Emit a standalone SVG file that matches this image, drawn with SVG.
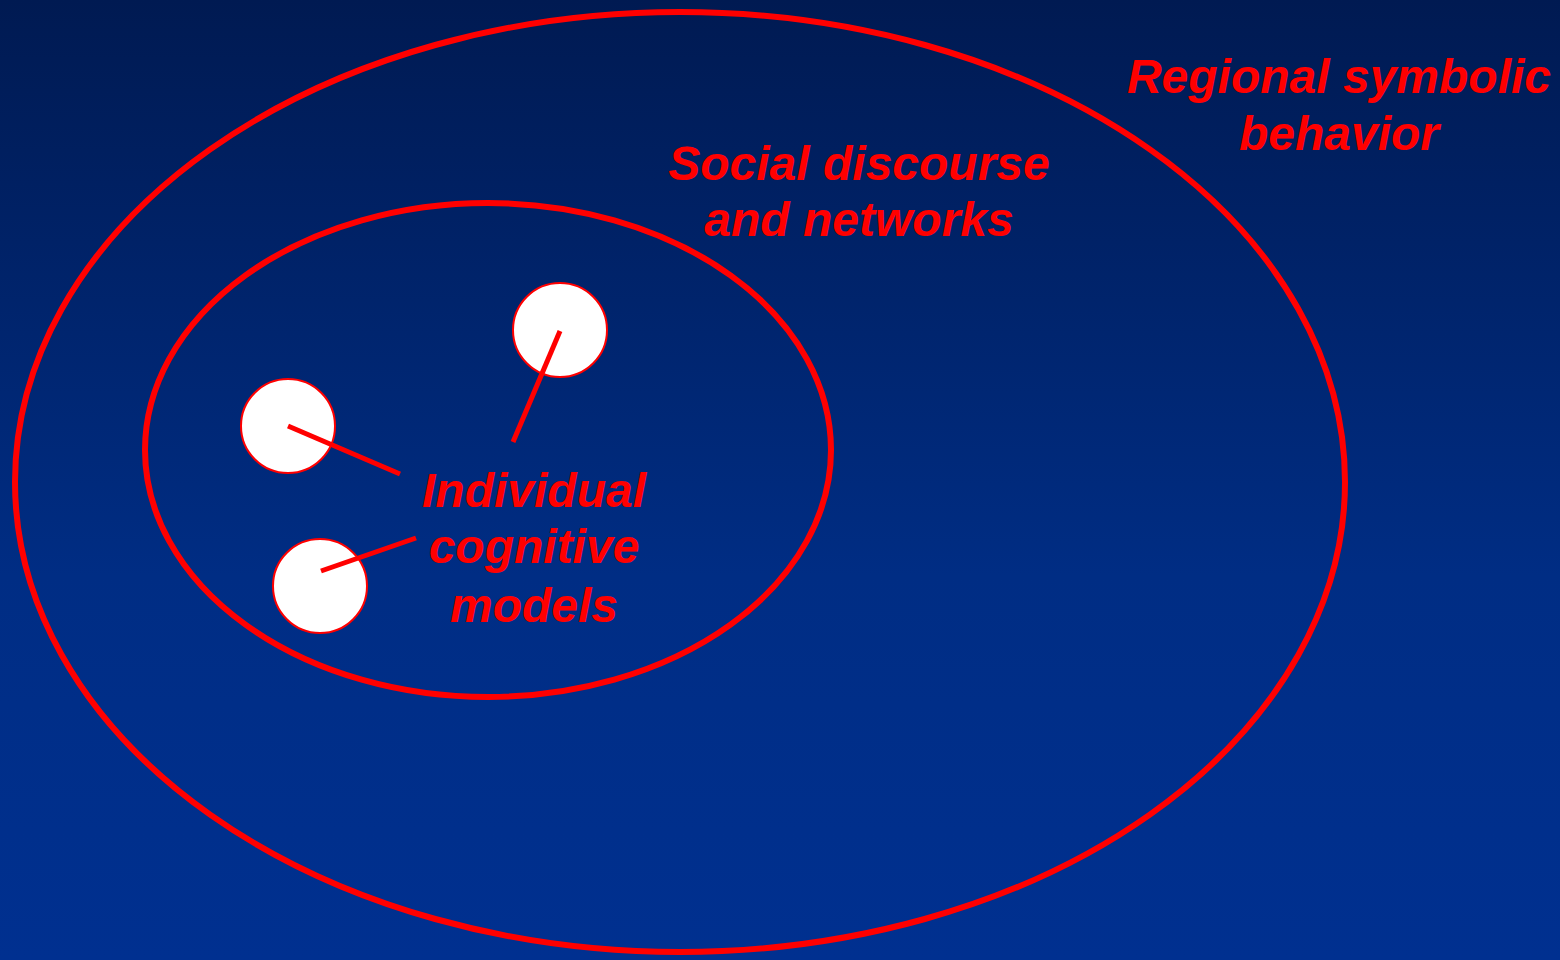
<svg xmlns="http://www.w3.org/2000/svg" width="1560" height="960" viewBox="0 0 1560 960">
  <defs>
    <linearGradient id="bg" x1="0" y1="0" x2="0" y2="1">
      <stop offset="0" stop-color="#001a52"/>
      <stop offset="0.6" stop-color="#002d84"/>
      <stop offset="1" stop-color="#003090"/>
    </linearGradient>
  </defs>
  <style>
    .ring { fill: none; stroke: #ff0000; stroke-width: 6; }
    .node { fill: #ffffff; stroke: #ff0000; stroke-width: 2; }
    .conn { stroke: #ff0000; stroke-width: 5; fill: none; }
    .lbl { font-family: "Liberation Sans", Arial, sans-serif; font-weight: bold; font-style: italic; font-size: 48px; fill: #ff0000; text-anchor: middle; }
  </style>
  <rect x="0" y="0" width="1560" height="960" fill="url(#bg)"/>
  <g id="regional">
    <ellipse class="ring" cx="680" cy="482" rx="665" ry="470"/>
    <text class="lbl" x="1339" y="93">Regional symbolic</text>
    <text class="lbl" x="1339" y="150">behavior</text>
  </g>
  <g id="social">
    <ellipse class="ring" cx="488" cy="450" rx="343" ry="247"/>
    <text class="lbl" x="859" y="180">Social discourse</text>
    <text class="lbl" x="859" y="236">and networks</text>
  </g>
  <g id="node-top">
    <circle class="node" cx="560" cy="330" r="47"/>
  </g>
  <g id="node-left">
    <circle class="node" cx="288" cy="426" r="47"/>
  </g>
  <g id="node-bottom">
    <circle class="node" cx="320" cy="586" r="47"/>
  </g>
  <g id="connectors">
    <line class="conn" x1="560" y1="331" x2="513" y2="442"/>
    <line class="conn" x1="288" y1="426" x2="400" y2="474"/>
    <line class="conn" x1="321" y1="571" x2="416" y2="538"/>
  </g>
  <g id="individual">
    <text class="lbl" x="534" y="507">Individual</text>
    <text class="lbl" x="534" y="563">cognitive</text>
    <text class="lbl" x="534" y="622">models</text>
  </g>
</svg>
